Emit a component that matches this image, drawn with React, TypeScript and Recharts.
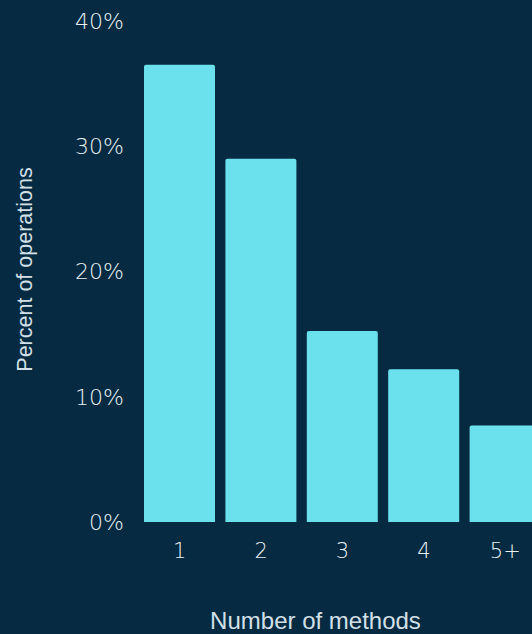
import { Bar, BarChart, Label, XAxis, YAxis } from "recharts"

// Valores (percentual de operações por nº de métodos)
const methods = ["1", "2", "3", "4", "5+"]
const percent = [36.5, 29.0, 15.25, 12.2, 7.7]
const yTicks = [0, 10, 20, 30, 40]

const BG = "#062a41"
const BAR = "#6ae1ec"
const TEXT = "#d3e0e8"
const TICK = "#e8f0f4"
const TICK_FONT = "'DejaVu Sans', sans-serif"
const LABEL_FONT = "'Liberation Sans', Arial, sans-serif"

const data = methods.map((m, i) => ({ m, pct: percent[i] }))

function YTitle({ viewBox }: { viewBox?: any }) {
  const cx = 25
  const cy = viewBox ? viewBox.y + viewBox.height / 2 - 2 : 270
  return (
    <text
      x={cx}
      y={cy}
      transform={`rotate(-90, ${cx}, ${cy})`}
      textAnchor="middle"
      dominantBaseline="central"
      fill={TEXT}
      fontSize={21.5}
      fontFamily={LABEL_FONT}
    >
      Percent of operations
    </text>
  )
}

export default function App() {
  return (
    <div
      style={{
        position: "fixed",
        left: 0,
        top: 0,
        width: 532,
        height: 634,
        overflow: "hidden",
        background: BG,
      }}
    >
      <BarChart
        width={546}
        height={634}
        data={data}
        margin={{ top: 21, right: 0, bottom: 0, left: 0 }}
        barCategoryGap={5}
      >
        <XAxis
          dataKey="m"
          height={112}
          tickSize={0}
          tickMargin={21}
          axisLine={false}
          tickLine={false}
          tick={{ fill: TICK, fontSize: 21, fontFamily: TICK_FONT, fontWeight: 300 }}
        >
          <Label
            value="Number of methods"
            position="insideBottom"
            offset={5}
            dx={-27}
            fill={TEXT}
            fontSize={24}
            fontFamily={LABEL_FONT}
          />
        </XAxis>
        <YAxis
          width={139}
          domain={[0, 40]}
          ticks={yTicks}
          tickFormatter={(v: number) => `${v}%`}
          tickSize={0}
          tickMargin={15}
          axisLine={false}
          tickLine={false}
          tick={{ fill: TICK, fontSize: 22, fontFamily: TICK_FONT, fontWeight: 300 }}
        >
          <Label content={<YTitle />} />
        </YAxis>
        <Bar dataKey="pct" fill={BAR} radius={[2, 2, 0, 0]} isAnimationActive={false} />
      </BarChart>
    </div>
  )
}
